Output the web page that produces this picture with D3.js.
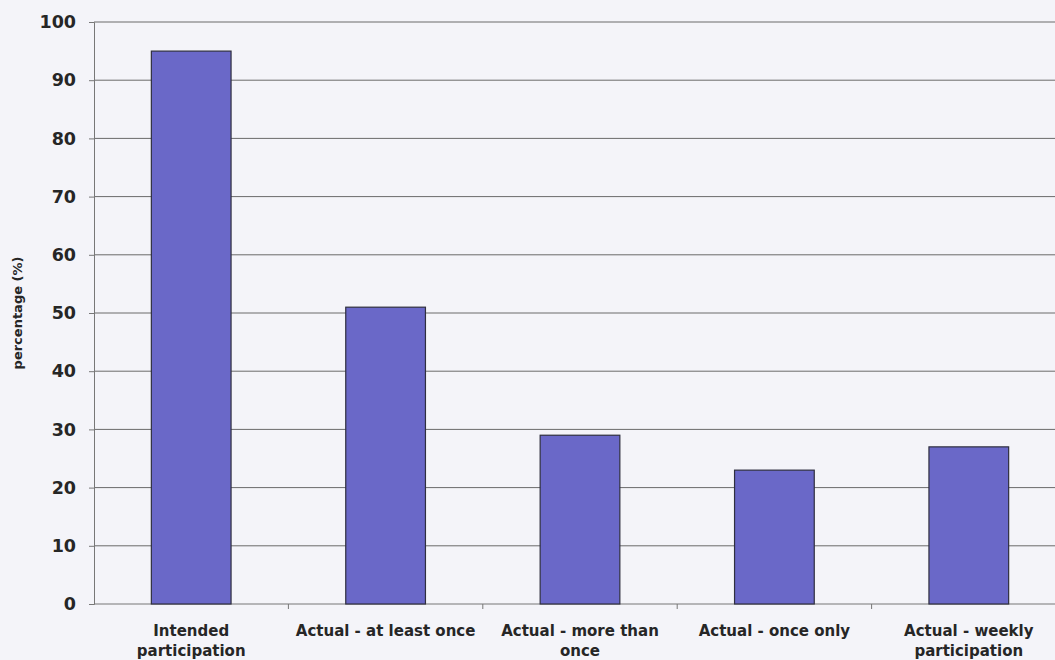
<!DOCTYPE html>
<html>
<head>
<meta charset="utf-8">
<script src="https://cdn.jsdelivr.net/npm/d3@7"></script>
<style>
  html, body { margin: 0; padding: 0; background: #f4f4f9; }
  svg { display: block; }
  text { font-family: "DejaVu Sans", Verdana, sans-serif; font-weight: bold; fill: #262626; }
</style>
</head>
<body>
<svg id="chart" width="1055" height="660"></svg>
<script>
// Participation categories (two-line labels) and their percentages
const categories = [
  ["Intended", "participation"],
  ["Actual - at least once"],
  ["Actual - more than", "once"],
  ["Actual - once only"],
  ["Actual - weekly", "participation"]
];
const values = [95, 51, 29, 23, 27];
const yTicks = [0, 10, 20, 30, 40, 50, 60, 70, 80, 90, 100];
const yTitle = "percentage (%)";

const svg = d3.select("#chart");
const plotLeft = 94, plotRight = 1066, plotTop = 22, plotBottom = 604;

const x = d3.scaleBand()
  .domain(d3.range(categories.length))
  .range([plotLeft, plotRight])
  .paddingInner(0.59)
  .paddingOuter(0.295);

const y = d3.scaleLinear().domain([0, 100]).range([plotBottom, plotTop]);

// horizontal gridlines
svg.append("g")
  .selectAll("line")
  .data(yTicks.filter(d => d > 0))
  .join("line")
  .attr("x1", plotLeft).attr("x2", plotRight)
  .attr("y1", d => y(d)).attr("y2", d => y(d))
  .attr("stroke", "#6a6a6a").attr("stroke-width", 1);

// y axis
const yAxis = svg.append("g")
  .attr("transform", `translate(${plotLeft},0)`)
  .call(d3.axisLeft(y).tickValues(yTicks).tickSize(5).tickPadding(13));
yAxis.select(".domain").attr("stroke", "#777");
yAxis.selectAll(".tick line").attr("stroke", "#777");
yAxis.selectAll(".tick text")
  .attr("font-size", 17.5).attr("font-family", "DejaVu Sans, Verdana, sans-serif")
  .attr("font-weight", "bold").attr("fill", "#262626");

// x axis with boundary tick marks between categories
const bw = x.step();
svg.append("line")
  .attr("x1", plotLeft).attr("x2", plotRight)
  .attr("y1", plotBottom).attr("y2", plotBottom)
  .attr("stroke", "#777");
svg.append("g")
  .selectAll("line")
  .data(d3.range(1, categories.length))
  .join("line")
  .attr("x1", i => x(i) - (bw - x.bandwidth()) / 2)
  .attr("x2", i => x(i) - (bw - x.bandwidth()) / 2)
  .attr("y1", plotBottom).attr("y2", plotBottom + 5)
  .attr("stroke", "#777");

// bars
svg.append("g")
  .selectAll("rect")
  .data(values)
  .join("rect")
  .attr("x", (d, i) => x(i))
  .attr("width", x.bandwidth())
  .attr("y", d => y(d))
  .attr("height", d => y(0) - y(d))
  .attr("fill", "#6a68c8")
  .attr("stroke", "#2f2f3f")
  .attr("stroke-width", 1.2);

// category labels
const labels = svg.append("g")
  .selectAll("text")
  .data(categories)
  .join("text")
  .attr("text-anchor", "middle")
  .attr("font-size", 15)
  .attr("x", (d, i) => x(i) + x.bandwidth() / 2)
  .attr("y", 636);
labels.selectAll("tspan")
  .data(d => d)
  .join("tspan")
  .attr("x", function () { return d3.select(this.parentNode).attr("x"); })
  .attr("dy", (d, j) => j === 0 ? 0 : 20)
  .text(d => d);

// y axis title
svg.append("text")
  .attr("transform", `translate(22,${(plotTop + plotBottom) / 2}) rotate(-90)`)
  .attr("text-anchor", "middle")
  .attr("font-size", 13)
  .text(yTitle);
</script>
</body>
</html>
